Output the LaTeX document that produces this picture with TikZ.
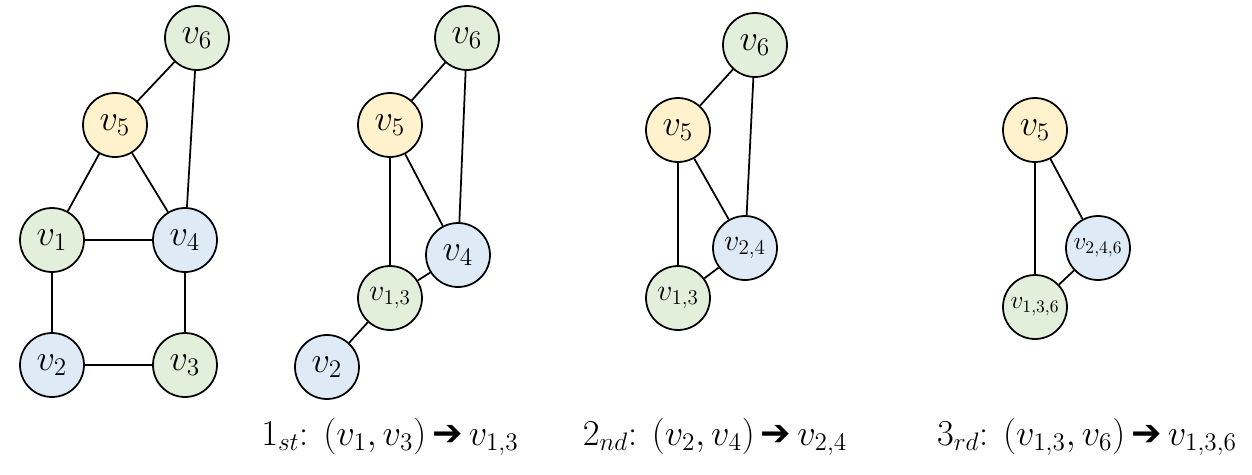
\documentclass[tikz,border=0pt]{standalone}
\usepackage{fontspec}
\newfontfamily\symfont{DejaVu Sans}
\definecolor{gfill}{HTML}{E2EFDA}
\definecolor{yfill}{HTML}{FFF2CC}
\definecolor{bfill}{HTML}{DEEBF7}
\newcommand{\mergearrow}{\,{\symfont ➔}\,}
\tikzset{
  vert/.style={circle,draw,line width=1pt,minimum size=1.28cm,inner sep=0pt,font=\huge},
  gv/.style={vert,fill=gfill},
  yv/.style={vert,fill=yfill},
  bv/.style={vert,fill=bfill},
  edge/.style={line width=1pt},
  step label/.style={font=\huge,anchor=base}
}
\begin{document}
\begin{tikzpicture}[x=0.02cm,y=-0.02cm]
\useasboundingbox (0,0) rectangle (1252,474);
% original graph
\node[gv] (a6) at (197,38) {$v_6$};
\node[yv] (a5) at (115,125) {$v_5$};
\node[gv] (a1) at (52,240) {$v_1$};
\node[bv] (a4) at (185,240) {$v_4$};
\node[bv] (a2) at (52,365) {$v_2$};
\node[gv] (a3) at (185,365) {$v_3$};
\draw[edge] (a6)--(a5) (a6)--(a4) (a5)--(a1) (a5)--(a4) (a1)--(a4)
  (a1)--(a2) (a4)--(a3) (a2)--(a3);
% first merge
\node[gv] (b6) at (467,38) {$v_6$};
\node[yv] (b5) at (390,125) {$v_5$};
\node[bv] (b4) at (458,255) {$v_4$};
\node[gv,font=\LARGE] (b13) at (390,298) {$v_{1,3}$};
\node[bv] (b2) at (327,367) {$v_2$};
\draw[edge] (b6)--(b5) (b6)--(b4) (b5)--(b4) (b5)--(b13) (b13)--(b4) (b13)--(b2);
% second merge
\node[gv] (c6) at (755,45) {$v_6$};
\node[yv] (c5) at (678,130) {$v_5$};
\node[bv,font=\LARGE] (c24) at (745,248) {$v_{2,4}$};
\node[gv,font=\LARGE] (c13) at (678,298) {$v_{1,3}$};
\draw[edge] (c6)--(c5) (c6)--(c24) (c5)--(c24) (c5)--(c13) (c13)--(c24);
% third merge
\node[yv] (d5) at (1035,130) {$v_5$};
\node[bv,font=\Large] (d246) at (1098,248) {$v_{2,4,6}$};
\node[gv,font=\Large] (d136) at (1035,307) {$v_{1,3,6}$};
\draw[edge] (d5)--(d246) (d5)--(d136) (d136)--(d246);
% step labels
\node[step label] (s1) at (390,445) {$1_{st}$: $(v_1,v_3)$\mergearrow$v_{1,3}$};
\node[step label] (s2) at (715,445) {$2_{nd}$: $(v_2,v_4)$\mergearrow$v_{2,4}$};
\node[step label] (s3) at (1087,445) {$3_{rd}$: $(v_{1,3},v_6)$\mergearrow$v_{1,3,6}$};
\end{tikzpicture}
\end{document}
